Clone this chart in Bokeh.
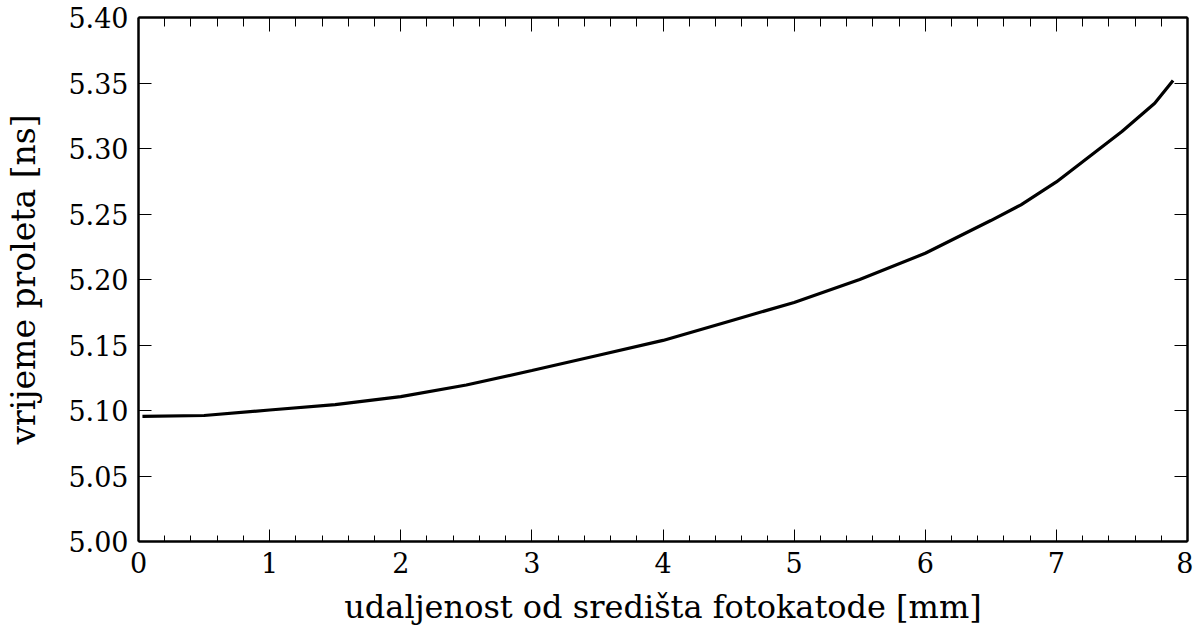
from bokeh.plotting import figure
from bokeh.models import Range1d, LinearAxis, NumeralTickFormatter, FixedTicker
from bokeh.embed import file_html
from bokeh.resources import INLINE

distance_mm = [0.03, 0.5, 1.0, 1.5, 2.0, 2.5, 3.0, 3.5, 4.0, 4.5, 5.0, 5.5, 6.0, 6.5, 6.73, 7.0, 7.5, 7.75, 7.89]
time_ns = [5.0955, 5.0962, 5.1004, 5.1045, 5.1106, 5.1195, 5.1305, 5.142, 5.1535, 5.168, 5.1825,
           5.200, 5.220, 5.245, 5.257, 5.2745, 5.313, 5.3345, 5.352]

x_ticks = [0, 1, 2, 3, 4, 5, 6, 7, 8]
x_minor = [i / 5 for i in range(0, 41)]
y_ticks = [5.00, 5.05, 5.10, 5.15, 5.20, 5.25, 5.30, 5.35, 5.40]

x_label = "udaljenost od središta fotokatode [mm]"
y_label = "vrijeme proleta [ns]"

FONT = "DejaVu Serif"

p = figure(width=1193, height=628, output_backend="svg", toolbar_location=None,
           x_range=Range1d(0, 8), y_range=Range1d(5.0, 5.4),
           min_border_left=138, min_border_right=6, min_border_top=17, min_border_bottom=84,
           x_axis_label=x_label, y_axis_label=y_label)
p.outline_line_color = None
p.grid.visible = False
p.background_fill_color = "white"
p.border_fill_color = "white"

p.line(distance_mm, time_ns, line_color="black", line_width=3.2)

xa = p.xaxis[0]
xa.ticker = FixedTicker(ticks=x_ticks, minor_ticks=x_minor)
ya = p.yaxis[0]
ya.ticker = FixedTicker(ticks=y_ticks)
ya.formatter = NumeralTickFormatter(format="0.00")

for ax in (xa, ya):
    ax.axis_line_width = 2.5
    ax.axis_line_color = "black"
    ax.major_tick_line_color = "black"
    ax.minor_tick_line_color = "black"
    ax.major_tick_out = 0
    ax.minor_tick_out = 0
    ax.major_label_text_font = FONT
    ax.major_label_text_font_size = "27px"
    ax.major_label_text_color = "black"
    ax.axis_label_text_font = FONT
    ax.axis_label_text_font_style = "normal"
    ax.axis_label_text_color = "black"

xa.axis_label_text_font_size = "32px"
ya.axis_label_text_font_size = "33px"
xa.major_tick_in = 12
xa.minor_tick_in = 6
xa.major_label_standoff = 10
xa.axis_label_standoff = 12
ya.major_tick_in = 13
ya.minor_tick_line_color = None
ya.major_label_standoff = 10
ya.axis_label_standoff = 22

top = LinearAxis(ticker=FixedTicker(ticks=x_ticks, minor_ticks=x_minor))
right = LinearAxis(ticker=FixedTicker(ticks=y_ticks))
for ax in (top, right):
    ax.axis_line_width = 2.5
    ax.axis_line_color = "black"
    ax.major_tick_out = 0
    ax.minor_tick_out = 0
    ax.major_label_text_font_size = "0px"
    ax.major_label_text_color = None
    ax.major_label_standoff = 0
    ax.major_tick_line_color = "black"
    ax.minor_tick_line_color = "black"
top.major_tick_in = 14
top.minor_tick_in = 9
right.major_tick_in = 13
right.minor_tick_line_color = None
p.add_layout(top, "above")
p.add_layout(right, "right")

open("out.html", "w").write(file_html(p, INLINE))
